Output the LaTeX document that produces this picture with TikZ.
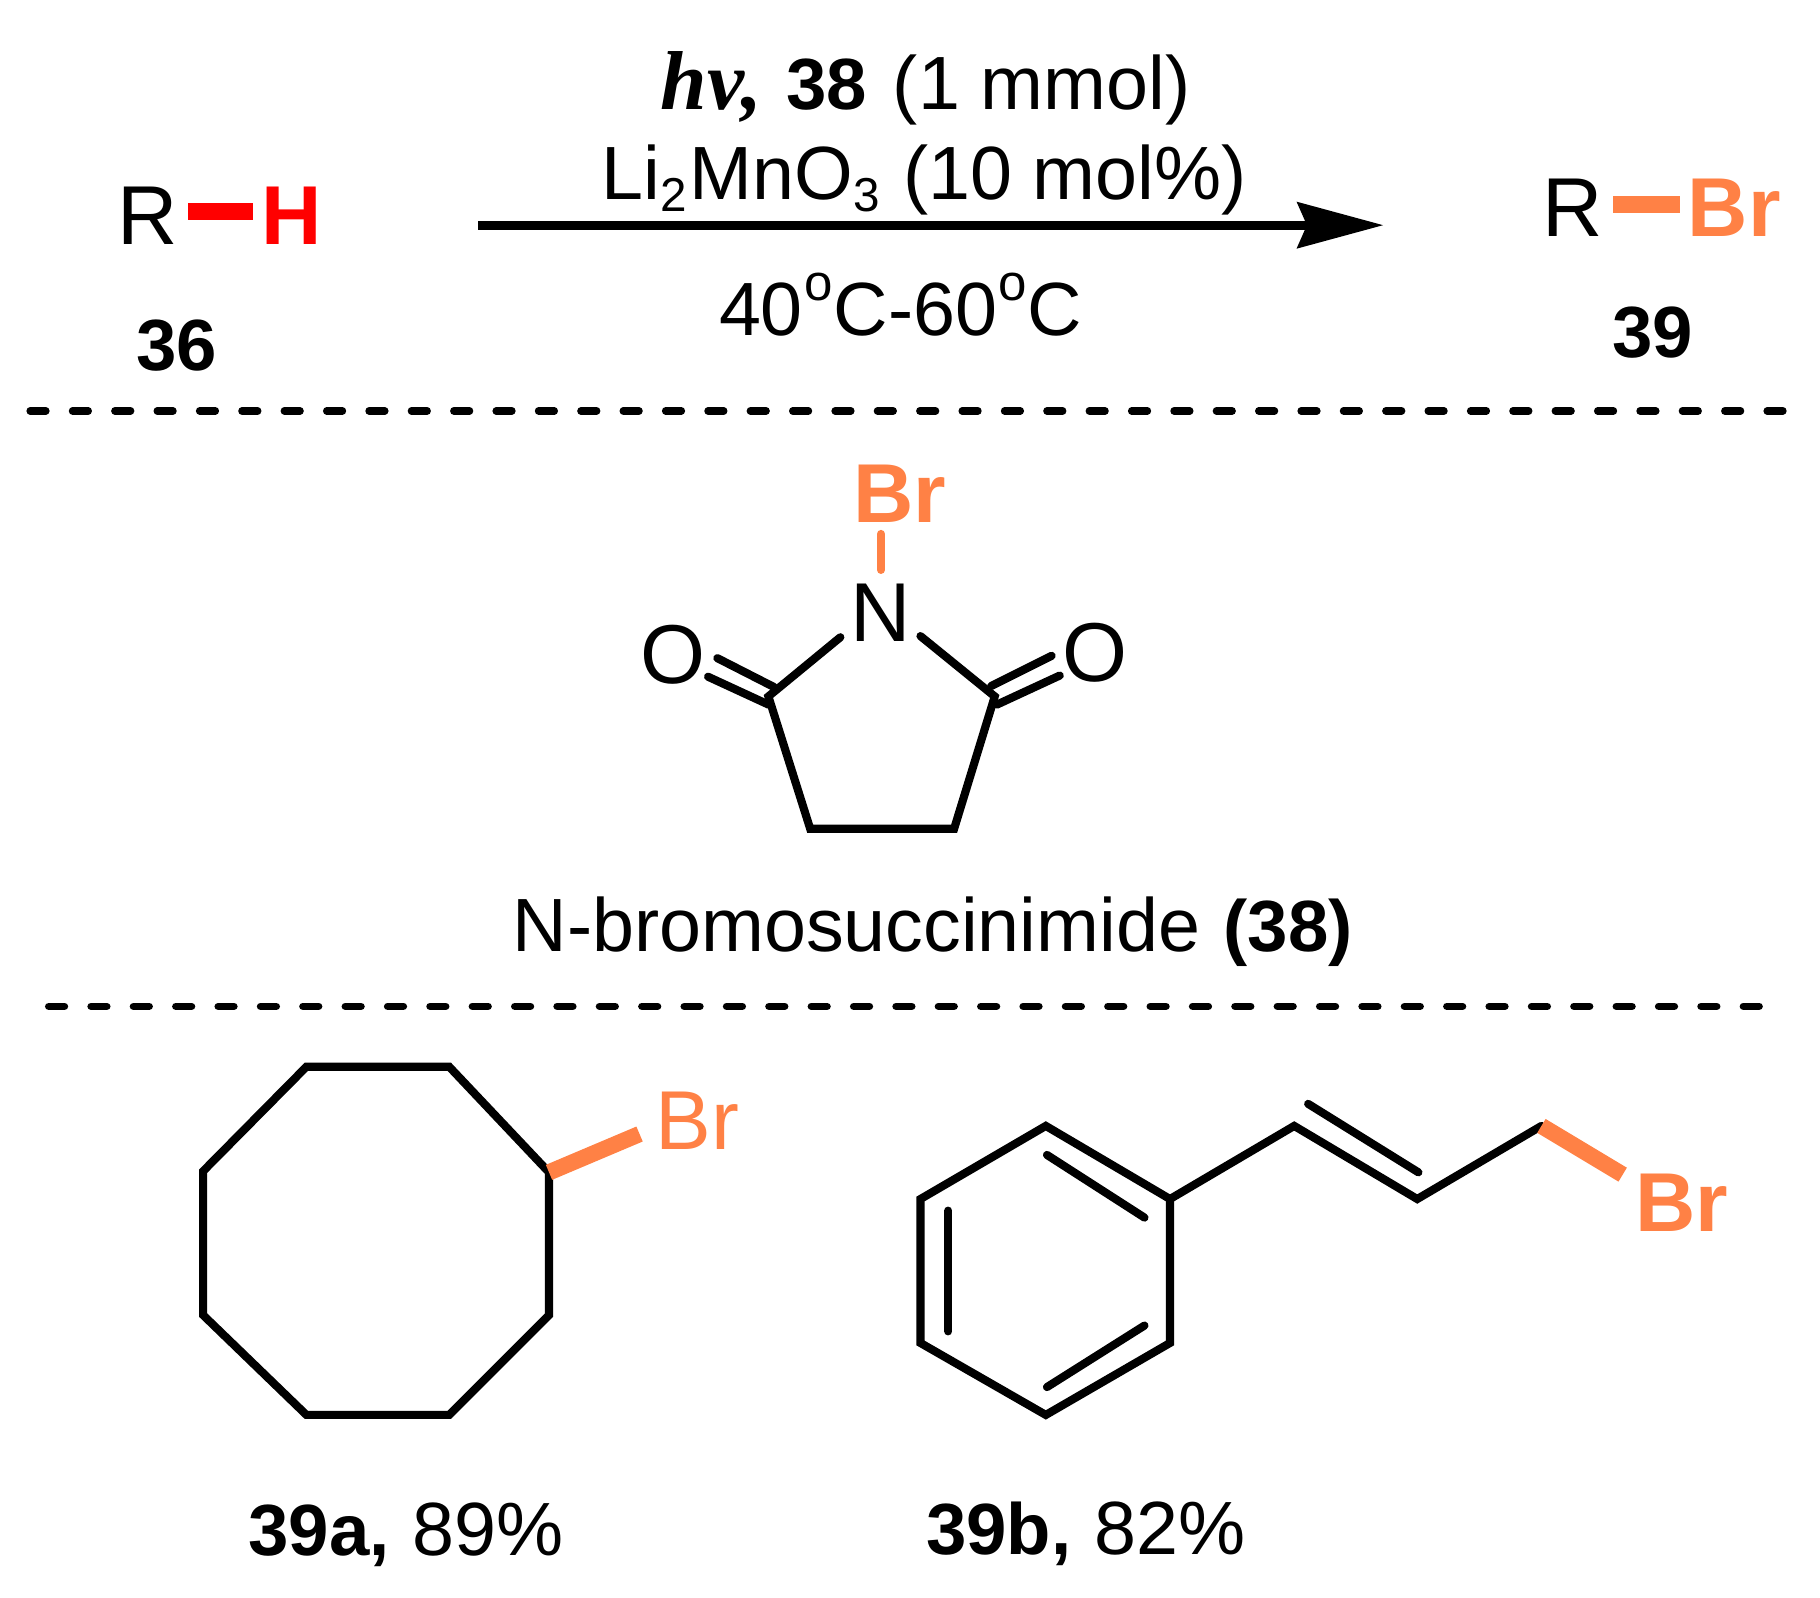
\documentclass[tikz,border=0pt]{standalone}
\usepackage{fontspec}
\setmainfont{Liberation Sans}
\newfontfamily\serifbit{Liberation Serif}
\usepackage{xcolor}
\usetikzlibrary{arrows.meta}
\definecolor{brorange}{HTML}{FF8145}
\newcommand{\lownum}[1]{\raisebox{-10pt}{\fontsize{41}{41}\selectfont #1}\hspace{2pt}}
\newcommand{\dego}{\hspace{1pt}\raisebox{30pt}{\fontsize{44}{44}\selectfont o}\hspace{1pt}}
\newcommand{\boldnum}[1]{{\fontsize{62.5}{66}\selectfont\bfseries #1}}
\tikzset{
  label big/.style={anchor=base,inner sep=0pt,font=\fontsize{72}{72}\selectfont},
  label bold/.style={anchor=base,inner sep=0pt,font=\fontsize{72}{72}\selectfont\bfseries},
  label mid/.style={anchor=base,inner sep=0pt,font=\fontsize{65}{66}\selectfont},
  bond/.style={black,line width=7pt,line cap=round,line join=miter},
  brbond/.style={brorange,line width=14pt},
  divider/.style={black,line width=6.5pt,line cap=round,dash pattern=on 13.5pt off 23pt},
}
\begin{document}
\begin{tikzpicture}[x=1pt,y=-1pt]
\useasboundingbox (0,0) rectangle (1568,1376);
% reaction row
\node[label mid] (cond1) at (797.5,94) {{\fontsize{72}{72}\serifbit\bfseries\itshape hv,}\hspace{3pt} \boldnum{38}\hspace{4pt} (1 mmol)};
\node[label mid] (cond2) at (796,172) {Li\hspace{1pt}\lownum{2}MnO\lownum{3} (10 mol\%)};
\node[label mid] (cond3) at (776,289) {40\dego C-60\dego C};
\coordinate (arrowstart) at (412,194);
\coordinate (arrowend) at (1192,194);
\draw[black,line width=8pt,-{Stealth[length=74pt,width=39pt,inset=8pt]}] (arrowstart) -- (arrowend);
\node[label big] (rleft) at (127,211) {R};
\node[label bold,red] (hleft) at (251,211) {H};
\coordinate (hbonda) at (162,182);
\coordinate (hbondb) at (218,182);
\draw[red,line width=15pt] (hbonda) -- (hbondb);
\node[label mid] (num36) at (152,319) {\boldnum{36}};
\node[label big] (rright) at (1355,204) {R};
\node[label bold,brorange] (brright) at (1494,204) {Br};
\coordinate (brbonda) at (1390,176);
\coordinate (brbondb) at (1447,176);
\draw[brorange,line width=15pt] (brbonda) -- (brbondb);
\node[label mid] (num39) at (1424,308) {\boldnum{39}};
\coordinate (dashonea) at (26,354);
\coordinate (dashoneb) at (1537,354);
\draw[divider] (dashonea) -- (dashoneb);
% N-bromosuccinimide
\node[label bold,brorange] (nbsbr) at (775,450) {Br};
\node[label big] (nbsn) at (759,553) {N};
\node[label big] (nbsol) at (580,589) {O};
\node[label big] (nbsor) at (943,587) {O};
\coordinate (nbrtop) at (759,460);
\coordinate (nbrbot) at (759,491);
\draw[brorange,line width=7pt,line cap=round] (nbrtop) -- (nbrbot);
\coordinate (nl) at (724,549);
\coordinate (nr) at (793,548);
\coordinate (ca) at (662,600);
\coordinate (cb) at (857,600);
\coordinate (cc) at (822,714);
\coordinate (cd) at (698,714);
\draw[bond] (nl) -- (ca) -- (cd) -- (cc) -- (cb) -- (nr);
\coordinate (ola) at (618,567);
\coordinate (olb) at (667,592);
\coordinate (olc) at (610,583);
\coordinate (old) at (662,607);
\coordinate (ora) at (906,565);
\coordinate (orb) at (854,591);
\coordinate (orc) at (913,582);
\coordinate (ord) at (859,607);
\draw[bond] (ola) -- (olb);
\draw[bond] (olc) -- (old);
\draw[bond] (ora) -- (orb);
\draw[bond] (orc) -- (ord);
\node[label mid] (nbsname) at (803.5,820) {N-bromosuccinimide\hspace{2pt} \boldnum{(38)}};
\coordinate (dashtwoa) at (42,867);
\coordinate (dashtwob) at (1518,867);
\draw[divider] (dashtwoa) -- (dashtwob);
% cyclooctyl bromide
\coordinate (oa) at (264,919);
\coordinate (ob) at (387,919);
\coordinate (oc) at (473,1010);
\coordinate (od) at (473,1133);
\coordinate (oe) at (387,1219);
\coordinate (of) at (264,1219);
\coordinate (og) at (175,1133);
\coordinate (oh) at (175,1009);
\draw[bond] (oa) -- (ob) -- (oc) -- (od) -- (oe) -- (of) -- (og) -- (oh) -- cycle;
\coordinate (obr) at (551,977);
\draw[brbond] (oc) -- (obr);
\node[label big,brorange] (brocta) at (601,990) {Br};
\node[label mid] (yielda) at (350,1340) {\boldnum{39a,}\hspace{2pt} 89\%};
% cinnamyl bromide
\coordinate (ba) at (901,970);
\coordinate (bb) at (1008,1033);
\coordinate (bc) at (1008,1157);
\coordinate (bd) at (901,1219);
\coordinate (be) at (793,1157);
\coordinate (bf) at (793,1033);
\draw[bond] (ba) -- (bb) -- (bc) -- (bd) -- (be) -- (bf) -- cycle;
\coordinate (ia) at (902,995);
\coordinate (ib) at (986,1049);
\coordinate (ic) at (986,1142);
\coordinate (id) at (902,1195);
\coordinate (ie) at (817,1147);
\coordinate (if) at (817,1043);
\draw[bond] (ia) -- (ib);
\draw[bond] (ic) -- (id);
\draw[bond] (ie) -- (if);
\coordinate (cha) at (1115,970);
\coordinate (chb) at (1221,1033);
\coordinate (chc) at (1328,970);
\draw[bond] (bb) -- (cha) -- (chb) -- (chc);
\coordinate (dba) at (1127,951);
\coordinate (dbb) at (1222,1010);
\draw[bond] (dba) -- (dbb);
\coordinate (cbr) at (1398,1012);
\draw[brbond] (chc) -- (cbr);
\node[label bold,brorange] (brcinn) at (1449,1061) {Br};
\node[label mid] (yieldb) at (935.5,1339) {\boldnum{39b,}\hspace{2pt} 82\%};
\end{tikzpicture}
\end{document}
